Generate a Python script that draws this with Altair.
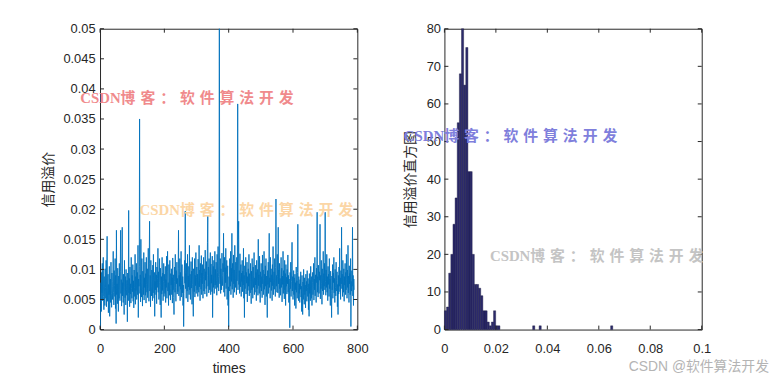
import altair as alt
import pandas as pd

# credit premium series (units of 1e-4)
premium_e4 = [
    5, 42, 78, 30, 95, 61, 110, 48, 72, 120, 55, 33, 88, 64, 40, 101, 70, 52, 115, 38,
    86, 155, 47, 69, 92, 28, 75, 58, 105, 22, 66, 84, 45, 112, 60, 37, 94, 71, 50, 80,
    130, 62, 41, 98, 73, 55, 118, 35, 90, 10, 165, 58, 76, 43, 102, 67, 30, 89, 52, 110,
    74, 48, 96, 165, 60, 83, 39, 107, 170, 56, 78, 45, 92, 64, 25, 115, 70, 53, 88, 41,
    100, 66, 57, 82, 13, 94, 72, 48, 198, 61, 85, 38, 104, 59, 76, 44, 120, 68, 52, 90,
    63, 108, 47, 81, 36, 99, 70, 55, 125, 42, 88, 65, 110, 50, 76, 95, 58, 140, 20, 84,
    72, 105, 350, 60, 91, 46, 150, 77, 54, 118, 66, 39, 97, 82, 58, 128, 49, 86, 70, 112,
    57, 93, 44, 120, 75, 62, 101, 53, 88, 135, 69, 47, 110, 180, 64, 90, 38, 115, 72, 56,
    99, 83, 48, 107, 61, 125, 74, 52, 95, 22, 80, 66, 112, 58, 91, 43, 104, 70, 85, 135,
    62, 96, 50, 78, 118, 67, 41, 102, 73, 20, 88, 59, 120, 65, 94, 48, 80, 110, 55, 76,
    92, 60, 105, 45, 83, 70, 122, 52, 97, 130, 64, 78, 40, 108, 86, 57, 115, 68, 49, 93,
    74, 101, 58, 86, 44, 119, 66, 91, 53, 25, 80, 104, 62, 125, 70, 47, 98, 76, 112, 59,
    85, 63, 102, 165, 56, 90, 72, 118, 48, 95, 67, 130, 54, 82, 108, 61, 88, 40, 74, 5,
    60, 98, 115, 77, 197, 68, 93, 52, 110, 80, 64, 125, 46, 89, 71, 105, 58, 140, 66, 92,
    50, 84, 113, 69, 97, 42, 120, 75, 58, 22, 101, 82, 63, 118, 54, 90, 73, 128, 60, 87,
    104, 66, 92, 55, 117, 79, 62, 140, 71, 99, 48, 110, 85, 67, 123, 58, 94, 76, 108, 52,
    88, 120, 64, 101, 75, 59, 132, 82, 96, 68, 113, 55, 90, 145, 190, 72, 104, 61, 118, 84,
    66, 97, 128, 58, 109, 77, 91, 63, 122, 20, 86, 105, 70, 115, 60, 94, 130, 74, 100, 68,
    112, 81, 57, 125, 95, 70, 138, 88, 64, 107, 650, 92, 76, 118, 60, 101, 84, 66, 127, 90,
    73, 110, 96, 160, 62, 87, 120, 55, 103, 78, 135, 68, 92, 115, 50, 84, 106, 40, 71, 5,
    88, 64, 118, 95, 72, 130, 58, 102, 80, 160, 67, 110, 91, 53, 124, 76, 99, 62, 140, 85,
    70, 112, 93, 58, 120, 81, 104, 375, 66, 150, 180, 75, 98, 60, 126, 89, 71, 108, 55, 94,
    80, 115, 63, 97, 74, 135, 52, 90, 20, 106, 68, 84, 120, 59, 95, 77, 112, 46, 88, 65,
    101, 72, 125, 56, 93, 80, 61, 110, 75, 43, 97, 66, 118, 84, 52, 104, 70, 90, 128, 58,
    86, 62, 107, 74, 95, 48, 115, 68, 82, 100, 57, 150, 73, 91, 60, 122, 79, 45, 96, 70,
    110, 64, 88, 53, 124, 76, 99, 58, 85, 130, 67, 92, 41, 106, 72, 118, 55, 89, 63, 20,
    98, 75, 112, 60, 94, 160, 70, 86, 52, 120, 79, 101, 65, 91, 48, 108, 73, 138, 58, 84,
    96, 67, 118, 81, 55, 103, 217, 72, 90, 62, 125, 88, 61, 170, 76, 99, 53, 110, 68, 85,
    57, 94, 120, 70, 102, 46, 89, 75, 130, 60, 98, 82, 51, 115, 66, 93, 40, 108, 72, 87,
    59, 100, 76, 124, 62, 90, 45, 84, 70, 3, 95, 68, 112, 55, 80, 102, 145, 64, 88, 50,
    74, 98, 58, 86, 40, 92, 66, 78, 35, 104, 62, 81, 52, 95, 175, 70, 48, 88, 60, 76,
    45, 83, 67, 96, 54, 72, 30, 90, 61, 25, 79, 50, 100, 68, 42, 86, 58, 74, 36, 92,
    64, 80, 47, 98, 70, 55, 85, 33, 76, 22, 93, 60, 82, 48, 105, 67, 52, 88, 40, 78,
    95, 58, 72, 110, 49, 84, 66, 120, 56, 91, 70, 45, 102, 78, 195, 62, 88, 54, 107, 73,
    60, 96, 82, 175, 51, 90, 68, 115, 77, 42, 101, 64, 86, 130, 58, 93, 72, 110, 66, 195,
    80, 57, 99, 70, 125, 62, 88, 48, 105, 75, 92, 55, 118, 68, 84, 40, 97, 73, 60, 20,
    89, 66, 108, 52, 94, 78, 120, 61, 85, 45, 100, 70, 56, 112, 82, 64, 96, 38, 75, 25,
    90, 59, 104, 72, 135, 63, 86, 50, 98, 76, 170, 68, 92, 55, 115, 80, 62, 101, 47, 88,
    74, 110, 58, 95, 66, 125, 83, 52, 99, 70, 140, 61, 89, 45, 106, 76, 93, 58, 118, 5,
    80, 64, 98, 72, 170, 56, 90, 40, 84, 66,
]

# histogram
bin_width = 0.00083
hist_counts = [5, 6, 15, 20, 28, 35, 55, 68, 80, 65, 75, 42, 42, 20, 12, 12, 11, 9,
               5, 5, 2, 1, 2, 5, 1, 1]
outlier_starts = [0.0343, 0.0368, 0.0646]
outlier_counts = [1, 1, 1]

left_xticks = [0, 200, 400, 600, 800]
left_yticks = [0, 0.005, 0.01, 0.015, 0.02, 0.025, 0.03, 0.035, 0.04, 0.045, 0.05]
right_xticks = [0, 0.02, 0.04, 0.06, 0.08, 0.1]
right_yticks = [0, 10, 20, 30, 40, 50, 60, 70, 80]

wm = "CSDN博\u2004客\u2004：\u2004软\u2004件\u2004算\u2004法\u2004开\u2004发"
footer = "CSDN @软件算法开发"

W, H = 260, 304
TK = 4
INK = "#262626"
SERIF = "'Liberation Serif', 'Noto Sans CJK SC', serif"
CJK = "'Noto Sans CJK SC', sans-serif"
SANS = "'Liberation Sans', Arial, sans-serif"
LBL = "'' + datum.value"

df_line = pd.DataFrame({
    "t": list(range(1, len(premium_e4) + 1)),
    "premium": [v / 10000 for v in premium_e4],
})

starts = [round(i * bin_width, 6) for i in range(len(hist_counts))] + outlier_starts
counts = hist_counts + outlier_counts
df_hist = pd.DataFrame({"x0": starts, "count": counts})
df_hist["x1"] = df_hist["x0"] + bin_width

# shared axis definitions (used by every layer so they merge cleanly)
ax_lx = alt.Axis(values=left_xticks, labelExpr=LBL, title="times", titleFont=SANS,
                 labelPadding=13, titlePadding=6, labelFlush=False)
ax_ly = alt.Axis(values=left_yticks, labelExpr=LBL, title="信用溢价",
                 labelPadding=5, titlePadding=7, labelFlush=False)
ax_rx = alt.Axis(values=right_xticks, labelExpr=LBL, title=None, labelPadding=13,
                 labelFlush=False)
ax_ry = alt.Axis(values=right_yticks, labelExpr=LBL, title="信用溢价直方图",
                 labelPadding=4, titlePadding=9, labelFlush=False)

sc_lx = alt.Scale(domain=[0, 800], nice=False)
sc_ly = alt.Scale(domain=[0, 0.05], nice=False)
sc_rx = alt.Scale(domain=[0, 0.1], nice=False)
sc_ry = alt.Scale(domain=[0, 80], nice=False)


def tick_layers(xfield, xvals, xax, xsc, yfield, yvals, yax, ysc):
    dx = pd.DataFrame({xfield: xvals})
    dy = pd.DataFrame({yfield: yvals})
    X = alt.X(f"{xfield}:Q", axis=xax, scale=xsc)
    Y = alt.Y(f"{yfield}:Q", axis=yax, scale=ysc)
    return [
        alt.Chart(dx).mark_rule(color=INK, strokeWidth=1).encode(
            x=X, y=alt.value(H), y2=alt.value(H - TK)),
        alt.Chart(dx).mark_rule(color=INK, strokeWidth=1).encode(
            x=X, y=alt.value(0), y2=alt.value(TK)),
        alt.Chart(dy).mark_rule(color=INK, strokeWidth=1).encode(
            y=Y, x=alt.value(0), x2=alt.value(TK)),
        alt.Chart(dy).mark_rule(color=INK, strokeWidth=1).encode(
            y=Y, x=alt.value(W - TK), x2=alt.value(W)),
    ]


def watermark(text, color, x, y, size=15, font=SERIF, weight="bold", align="left"):
    return alt.Chart(pd.DataFrame({"label": [text]})).mark_text(
        align=align, baseline="middle", font=font, fontSize=size,
        fontWeight=weight, color=color,
    ).encode(text="label:N", x=alt.value(x), y=alt.value(y))


line = alt.Chart(df_line).mark_line(color="#0072BD", strokeWidth=0.9, clip=True).encode(
    x=alt.X("t:Q", scale=sc_lx, axis=ax_lx),
    y=alt.Y("premium:Q", scale=sc_ly, axis=ax_ly),
)

left = alt.layer(
    line,
    *tick_layers("t", left_xticks, ax_lx, sc_lx, "premium", left_yticks, ax_ly, sc_ly),
    watermark(wm, "#f08a8c", -20, 70),
    watermark(wm, "#fbd6a6", 40, 183),
).properties(width=W, height=H)

bars = alt.Chart(df_hist).mark_rect(color="#2c2a6c", stroke="#15143a", strokeWidth=0.4).encode(
    x=alt.X("x0:Q", scale=sc_rx, axis=ax_rx),
    x2="x1:Q",
    y=alt.Y("count:Q", scale=sc_ry, axis=ax_ry),
)

right = alt.layer(
    bars,
    *tick_layers("x0", right_xticks, ax_rx, sc_rx, "count", right_yticks, ax_ry, sc_ry),
    watermark(wm, "#7f7fdc", -41, 108),
    watermark(wm, "#c4c4c4", 46, 230),
    watermark(footer, "#b4b4b4", 328, 342, size=14,
              font="'Liberation Sans', 'Noto Sans CJK SC', sans-serif",
              weight="normal", align="right"),
).properties(width=W, height=H)

chart = alt.hconcat(left, right, spacing=34).properties(
    padding={"left": 33, "top": 12, "right": 0, "bottom": 0},
    background="white",
).configure_view(
    stroke=INK, strokeWidth=1,
).configure_axis(
    domain=False, ticks=False, grid=False, labelOverlap=False,
    labelFont=SANS, labelFontSize=13, labelColor=INK,
    titleFont=CJK, titleFontSize=14, titleFontWeight="normal", titleColor=INK,
)

chart.save("out.html", embed_options={"renderer": "svg", "actions": False})
